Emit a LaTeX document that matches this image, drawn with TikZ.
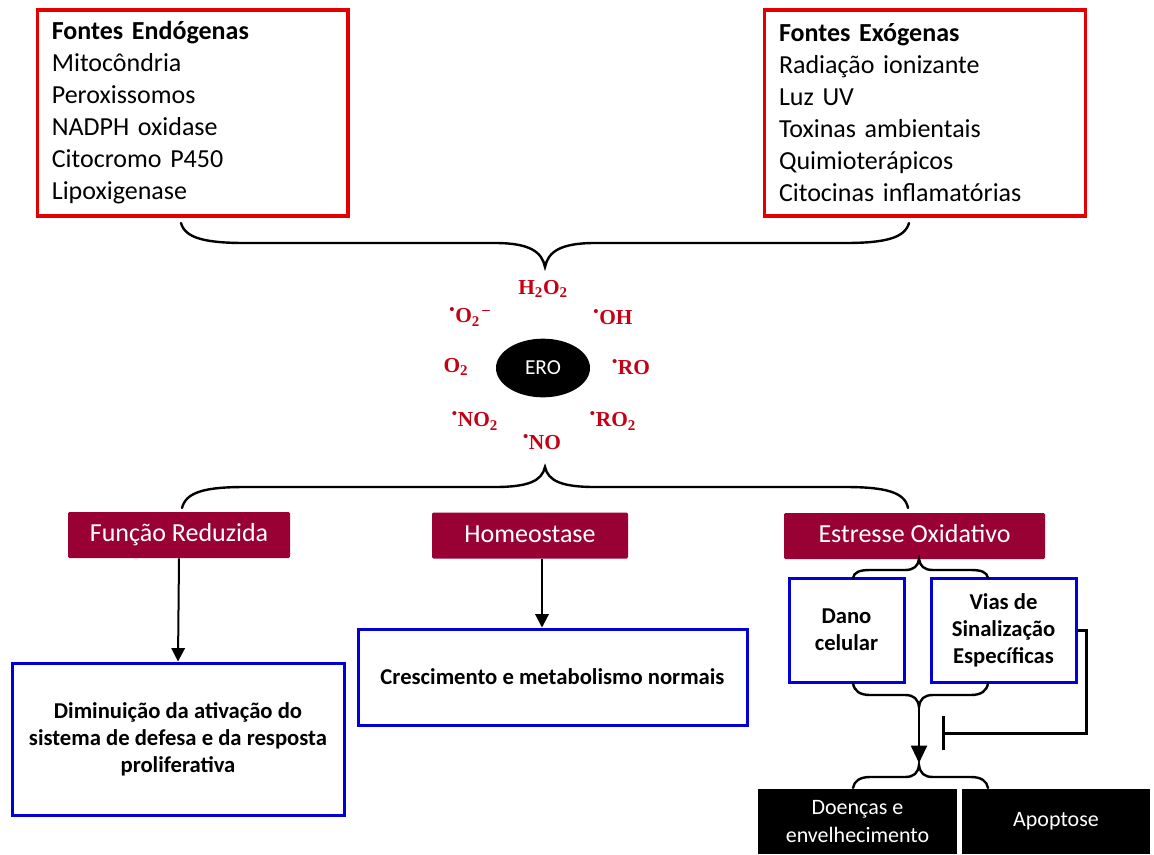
\documentclass[tikz,border=0pt]{standalone}
\usepackage{fontspec}
\setmainfont{Carlito}
\newfontfamily\spfont{Liberation Serif}
\usetikzlibrary{shapes.geometric,arrows.meta}
\definecolor{srcred}{RGB}{228,0,0}
\definecolor{spred}{RGB}{196,0,20}
\definecolor{maroon}{RGB}{153,0,51}
\definecolor{resblue}{RGB}{0,0,215}
\newcommand{\rad}{\textsuperscript{\textbullet}}

\begin{document}
\begin{tikzpicture}[x=0.75pt,y=0.75pt,yscale=-1,xscale=1,
  srcbox/.style={draw=srcred, line width=2.5pt, align=left, inner xsep=11pt, inner ysep=0pt, minimum height=154.5pt, font=\fontsize{19.5}{24}\selectfont},
  species/.style={text=spred, inner sep=1pt, font=\spfont\bfseries\fontsize{16}{18}\selectfont},
  outbox/.style={fill=maroon, text=white, minimum height=34.5pt, text height=14pt, text depth=4pt, rounded corners=1pt, font=\fontsize{19.5}{23}\selectfont},
  resbox/.style={draw=resblue, line width=2.25pt, align=center, font=\bfseries\fontsize{17}{20.25}\selectfont},
  endbox/.style={fill=black, text=white, align=center, minimum height=48.75pt, font=\fontsize{16.5}{21}\selectfont},
  brc/.style={line width=1.8pt, line cap=round},
  arr/.style={line width=1.5pt, -{Triangle[width=10pt,length=10pt]}},
  inh/.style={line width=2.25pt, -{Bar[width=26pt]}}]
\path[use as bounding box] (0,0) rectangle (1154,854);

%Sources
\node[srcbox, text width=211pt] (endo) at (192.5,113) {\textbf{Fontes Endógenas}\\Mitocôndria\\Peroxissomos\\NADPH oxidase\\Citocromo P450\\Lipoxigenase};
\node[srcbox, text width=219pt] (exo) at (925,113) {\textbf{Fontes Exógenas}\\Radiação ionizante\\Luz UV\\Toxinas ambientais\\Quimioterápicos\\Citocinas inflamatórias};

%Brace: sources
\draw[brc] (181,223) .. controls (185,238) and (205,243) .. (245,243) -- (495,243) .. controls (530,243) and (542,252) .. (545,267) .. controls (548,252) and (560,243) .. (595,243) -- (845,243) .. controls (885,243) and (905,238) .. (909,223);

%ERO and species
\node[ellipse, fill=black, text=white, minimum width=70.5pt, minimum height=44pt, inner sep=0pt, font=\fontsize{16}{18}\selectfont] (ero) at (543,368) {ERO};
\node[species] (hoo) at (543,289) {H\textsubscript{2}O\textsubscript{2}};
\node[species] (oh) at (613,317) {\rad OH};
\node[species] (ro) at (631,367) {\rad RO};
\node[species] (roo) at (613,421) {\rad RO\textsubscript{2}};
\node[species] (no) at (542,442) {\rad NO};
\node[species] (noo) at (475,421) {\rad NO\textsubscript{2}};
\node[species] (oo) at (456,367) {O\textsubscript{2}};
\node[species] (sup) at (470,317) {\rad O\textsubscript{2}\textsuperscript{\,–}};

%Brace: outcomes
\draw[brc] (182,508) .. controls (186,492) and (205,487) .. (245,487) -- (495,487) .. controls (528,487) and (542,481) .. (545,467) .. controls (548,481) and (562,487) .. (595,487) -- (845,487) .. controls (885,487) and (905,492) .. (908,508);

%Outcomes
\node[outbox, minimum width=166.5pt] (funcao) at (179,535) {Função Reduzida};
\node[outbox, minimum width=147pt] (homeo) at (530,535.5) {Homeostase};
\node[outbox, minimum width=195.75pt] (estresse) at (914.5,536) {Estresse Oxidativo};

%Results
\node[resbox, minimum width=249pt, minimum height=114pt] (dimin) at (178,739) {Diminuição da ativação do\\sistema de defesa e da resposta\\proliferativa};
\node[resbox, minimum width=291.75pt, minimum height=72pt] (cresc) at (552.5,677) {Crescimento e metabolismo normais};
\node[resbox, minimum width=86.25pt, minimum height=78pt] (dano) at (846.5,630) {Dano\\celular};
\node[resbox, minimum width=108.75pt, minimum height=78pt] (vias) at (1003.5,630) {Vias de\\Sinalização\\Específicas};

\draw[arr] (funcao.south) -- (dimin.north);
\coordinate (hm) at ([xshift=9pt]homeo.south);
\draw[arr] (hm) -- (hm |- cresc.north);

%Small braces
\draw[brc] (853,578) .. controls (854,572) and (860,570) .. (870,570) -- (905,570) .. controls (914,570) and (918,566) .. (919,559) .. controls (920,566) and (924,570) .. (933,570) -- (971,570) .. controls (981,570) and (987,572) .. (988,578);
\draw[brc] (853,683) .. controls (854,691) and (860,695) .. (870,695) -- (905,695) .. controls (914,695) and (918,699) .. (919,707) .. controls (920,699) and (924,695) .. (933,695) -- (971,695) .. controls (981,695) and (987,691) .. (988,683);
\draw[brc] (853,788) .. controls (854,781) and (860,777) .. (870,777) -- (905,777) .. controls (914,777) and (918,773) .. (919,765) .. controls (920,773) and (924,777) .. (933,777) -- (971,777) .. controls (981,777) and (987,781) .. (988,788);

\coordinate (brlow) at (919,709);
\coordinate (brbot) at (919,763);
\draw[line width=1.5pt, -{Triangle[width=12pt,length=13pt]}] (brlow) -- (brbot);

%Inhibition
\coordinate (blk) at (942,733);
\draw[inh] (vias.east) -| (1086,733) -- (blk);

%Final
\node[endbox, minimum width=149.25pt] (doenca) at (857.5,821.5) {Doenças e\\envelhecimento};
\node[endbox, minimum width=141pt] (apopt) at (1056,821.5) {Apoptose};

\end{tikzpicture}
\end{document}
